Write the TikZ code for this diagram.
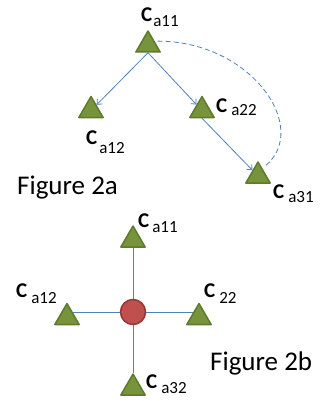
\documentclass[tikz,border=0pt]{standalone}
\usepackage{fontspec}
\setmainfont{Carlito}
\usetikzlibrary{shapes.geometric,arrows.meta,backgrounds}

\definecolor{leaf}{HTML}{77933C}
\definecolor{leafline}{HTML}{5E7A2B}
\definecolor{linkblue}{HTML}{4F81BD}
\definecolor{dotred}{HTML}{C0504D}
\definecolor{dotline}{HTML}{943634}

% C label: drop of the subscript, gap, subscript
\newcommand{\clab}[3]{{\fontsize{21}{21}\selectfont\bfseries C}\hspace{#2}\raisebox{-#1}{\fontsize{17}{17}\selectfont #3}}

\tikzset{
  tri/.style={regular polygon, regular polygon sides=3, fill=leaf, draw=leafline,
    line width=1.5pt, line join=round, minimum size=28pt, inner sep=0pt},
  hubdot/.style={circle, fill=dotred, draw=dotline, line width=1.5pt,
    minimum size=25pt, inner sep=0pt},
  clabel/.style={anchor=base west, inner sep=0pt},
  figlabel/.style={anchor=base west, inner sep=0pt, font=\fontsize{27}{27}\selectfont},
  link/.style={draw=linkblue, line width=0.8pt},
  arrowlink/.style={link, -{Straight Barb[length=4pt,width=7pt]}},
  dashlink/.style={link, dash pattern=on 5pt off 3pt}
}

\begin{document}
\begin{tikzpicture}[x=1pt,y=-1pt]
\useasboundingbox (0,0) rectangle (322,401);

% Figure 2a
\node[tri] (a11) at (148,45) {};
\node[tri] (a12) at (91,110.5) {};
\node[tri] (a22) at (202,110.5) {};
\node[tri] (a31) at (258,176) {};
\node[clabel] (la11) at (141,22) {\clab{5pt}{1pt}{a11}};
\node[clabel] (la12) at (86,144) {\clab{9pt}{2pt}{a12}};
\node[clabel] (la22) at (216,113) {\clab{2pt}{4pt}{a22}};
\node[clabel] (la31) at (273,198) {\clab{4pt}{4pt}{a31}};
\draw[arrowlink] (a11.side 2) -- (a12);
\draw[arrowlink] (a11.side 2) -- (a22);
\draw[arrowlink] (a22.side 2) -- (a31);
\draw[dashlink, shorten <=3pt, shorten >=4pt] (a11.30) .. controls +(97,0) and +(48,-40) .. (a31.60);
\node[figlabel] (fa) at (17,194) {Figure 2a};

% Figure 2b
\node[hubdot] (hub) at (133,312) {};
\node[tri] (bt) at (133,240) {};
\node[tri] (bl) at (67,317.5) {};
\node[tri] (br) at (199,317.5) {};
\node[tri] (bb) at (133,388) {};
\begin{scope}[on background layer]
\draw[link] (bt) -- (bb);
\draw[link] (bl.center |- hub) -- (br.center |- hub);
\end{scope}
\node[clabel] (lbt) at (138,227) {\clab{5pt}{3pt}{a11}};
\node[clabel] (lbl) at (16,297) {\clab{6pt}{4pt}{a12}};
\node[clabel] (lbr) at (204,297) {\clab{6pt}{4pt}{22}};
\node[clabel] (lbb) at (146,388) {\clab{5pt}{4pt}{a32}};
\node[figlabel] (fb) at (210,370) {Figure 2b};
\end{tikzpicture}
\end{document}
